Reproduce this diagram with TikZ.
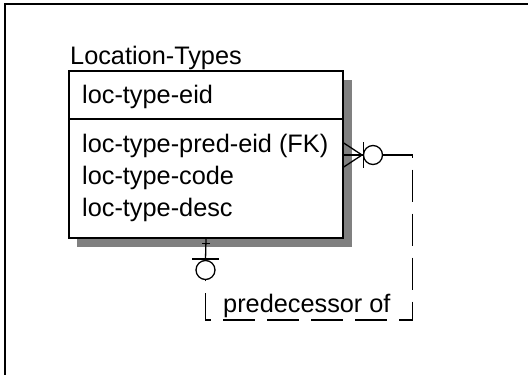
\documentclass[tikz,border=0pt]{standalone}
\usepackage{fontspec}
\setmainfont{Liberation Sans}
\begin{document}
\begin{tikzpicture}[x=1pt,y=-1pt,
  txt/.style={anchor=base west,inner sep=0pt,font=\fontsize{25.3}{30}\selectfont},
  entbox/.style={draw,line width=1.5pt,fill=white,minimum width=274pt,minimum height=167pt,inner sep=0pt},
  shade/.style={fill=black!50},
  rel/.style={line width=1.3pt},
  reldash/.style={line width=1.4pt,dash pattern=on 32pt off 12pt},
  endmark/.style={circle,draw,line width=1.3pt,fill=white,minimum size=19pt,inner sep=0pt},
  frame/.style={line width=2.5pt}]
\useasboundingbox (0,0) rectangle (528,375);

% frame edges
\draw[frame] (5.2,375) -- (5.2,4) -- (528,4);

% entity with drop shadow
\fill[shade] (77,80) rectangle (352,247);
\node[entbox] (ent) at (206,154.5) {};
\coordinate (div) at (0,119);
\draw[line width=1.5pt] (ent.west |- div) -- (ent.east |- div);

\node[txt] (title) at (70,64) {Location-Types};
\node[txt] (a1) at (82,103) {loc-type-eid};
\node[txt] (a2) at (82,152) {loc-type-pred-eid (FK)};
\node[txt] (a3) at (82,184) {loc-type-code};
\node[txt] (a4) at (82,216) {loc-type-desc};

% parent end: one, zero-or-one
\node[endmark] (lc) at (205.5,270) {};
\draw[rel] (ent.south) -- (lc.north);
\draw[rel] ([xshift=-4pt,yshift=-5pt]ent.south) -- ++(8,0);
\draw[rel] ([yshift=1pt]lc.north) ++(-13.5,0) -- ++(27,0);

% child end: zero-or-many
\node[endmark] (rc) at (373,155) {};
\coordinate (cf) at (362,155);
\coordinate (cfe) at (ent.east |- cf);
\draw[rel] (cf) -- ([yshift=12pt]cfe);
\draw[rel] (cf) -- (cfe);
\draw[rel] (cf) -- ([yshift=-12pt]cfe);
\draw[rel] (cf) -- (rc.west);
\draw[rel] ([xshift=0.5pt]rc.west) ++(0,-13) -- ++(0,26);

% recursive relationship line
\coordinate (k1) at (412.5,155);
\coordinate (k2) at (412.5,320);
\draw[reldash] (rc.east) -- (k1) -- (k2) -| (lc.south);
\node[txt] (lab) at (223,312) {predecessor of};
\end{tikzpicture}
\end{document}
